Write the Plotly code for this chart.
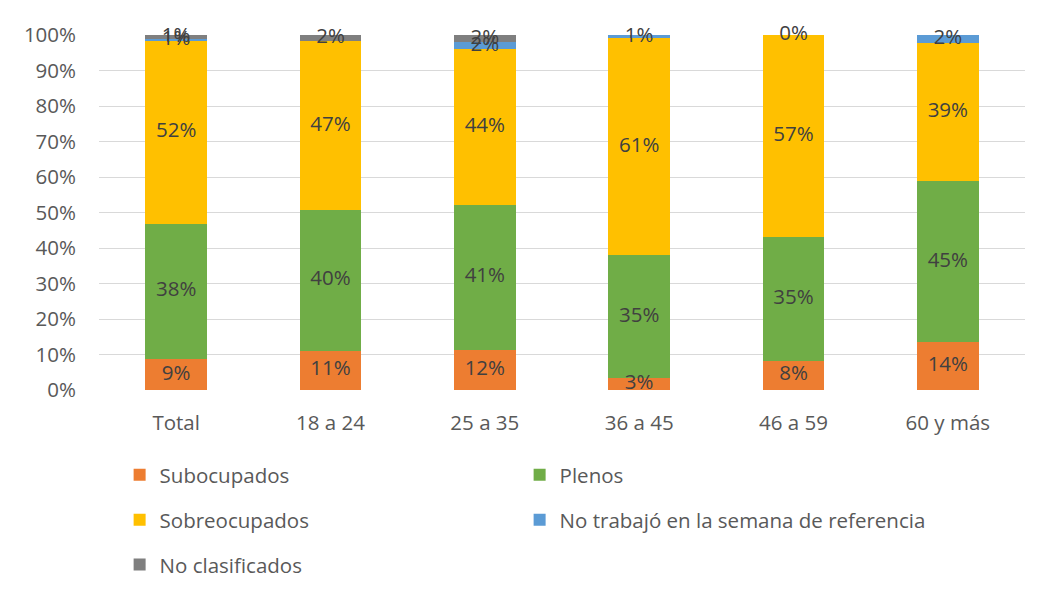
import plotly.graph_objects as go

categories = ["Total", "18 a 24", "25 a 35", "36 a 45", "46 a 59", "60 y más"]
series_names = ["Subocupados", "Plenos", "Sobreocupados",
                "No trabajó en la semana de referencia", "No clasificados"]
subocupados = [8.8, 11.1, 11.4, 3.3, 8.3, 13.5]
plenos = [38.0, 39.7, 40.8, 34.75, 34.7, 45.4]
sobreocupados = [51.6, 47.4, 43.8, 61.05, 57.0, 38.8]
no_trabajo = [0.6, None, 2.1, 0.9, 0.0, 2.3]
no_clasificados = [1.0, 1.8, 1.9, None, None, None]
labels_sub = ["9%", "11%", "12%", "3%", "8%", "14%"]
labels_plenos = ["38%", "40%", "41%", "35%", "35%", "45%"]
labels_sobre = ["52%", "47%", "44%", "61%", "57%", "39%"]
labels_notrab = ["1%", None, "2%", "1%", "0%", "2%"]
labels_noclas = ["1%", "2%", "2%", None, None, None]
tick_vals = [0, 10, 20, 30, 40, 50, 60, 70, 80, 90, 100]
tick_text = ["0%", "10%", "20%", "30%", "40%", "50%", "60%", "70%", "80%", "90%", "100%"]

colors = ["#ED7D31", "#70AD47", "#FFC000", "#5B9BD5", "#7F7F7F"]
legend_ids = ["legend", "legend", "legend2", "legend2", "legend3"]
legend_widths = [None, None, None, 420, None]
FONT = "Open Sans"
FS = 20.5

all_vals = [subocupados, plenos, sobreocupados, no_trabajo, no_clasificados]
all_labels = [labels_sub, labels_plenos, labels_sobre, labels_notrab, labels_noclas]

fig = go.Figure()
for name, vals, col, lg, lw in zip(series_names, all_vals, colors, legend_ids, legend_widths):
    fig.add_trace(go.Bar(
        x=categories, y=[v if v is not None else 0 for v in vals], name=name,
        marker=dict(color=col, line=dict(width=0)),
        legend=lg, legendwidth=lw, hoverinfo="skip",
    ))

# data labels centred on each segment
base = [0.0] * len(categories)
for vals, labs in zip(all_vals, all_labels):
    xs, ys, ts = [], [], []
    for i, (v, t) in enumerate(zip(vals, labs)):
        if v is None:
            continue
        xs.append(categories[i])
        ys.append(base[i] + v / 2)
        ts.append(t)
        base[i] += v
    fig.add_trace(go.Scatter(
        x=xs, y=ys, text=ts, mode="text", textposition="middle center",
        textfont=dict(family=FONT, size=FS, color="#404040"),
        showlegend=False, hoverinfo="skip", cliponaxis=False,
    ))

# page body has an 8px margin: positions below are in figure pixels
OFF = 8
W, H = 1043, 593
L = 99.4 - OFF
R = W - (1024.6 - OFF)
T = 34.5 - OFF
B = H - (390 - OFF)
pw, ph = W - L - R, H - T - B

def px_x(p):
    return (p - OFF - L) / pw

def px_y(p):
    return (H - B - (p - OFF)) / ph

legend_common = dict(
    orientation="h", entrywidth=355, entrywidthmode="pixels",
    font=dict(family=FONT, size=FS, color="#595959"),
    xanchor="left", yanchor="middle", bgcolor="rgba(0,0,0,0)",
    traceorder="normal",
)

LX = px_x(120)
fig.update_layout(
    width=W, height=H,
    margin=dict(l=L, r=R, t=T, b=B, autoexpand=False),
    paper_bgcolor="white", plot_bgcolor="white",
    barmode="stack", bargap=0.6,
    font=dict(family=FONT, size=FS, color="#595959"),
    showlegend=True,
    legend=dict(x=LX, y=px_y(475), **legend_common),
    legend2=dict(x=LX, y=px_y(520), **legend_common),
    legend3=dict(x=LX, y=px_y(565), **legend_common),
    xaxis=dict(showgrid=False, showline=False, ticks="", ticklabelstandoff=18,
               tickfont=dict(family=FONT, size=FS, color="#595959")),
    yaxis=dict(range=[0, 100], tickvals=tick_vals, ticktext=tick_text,
               showgrid=True, gridcolor="#D9D9D9", gridwidth=1.3,
               zeroline=False, showline=False, ticks="", ticklabelstandoff=22,
               tickfont=dict(family=FONT, size=FS, color="#595959")),
)

fig.write_html("out.html")
